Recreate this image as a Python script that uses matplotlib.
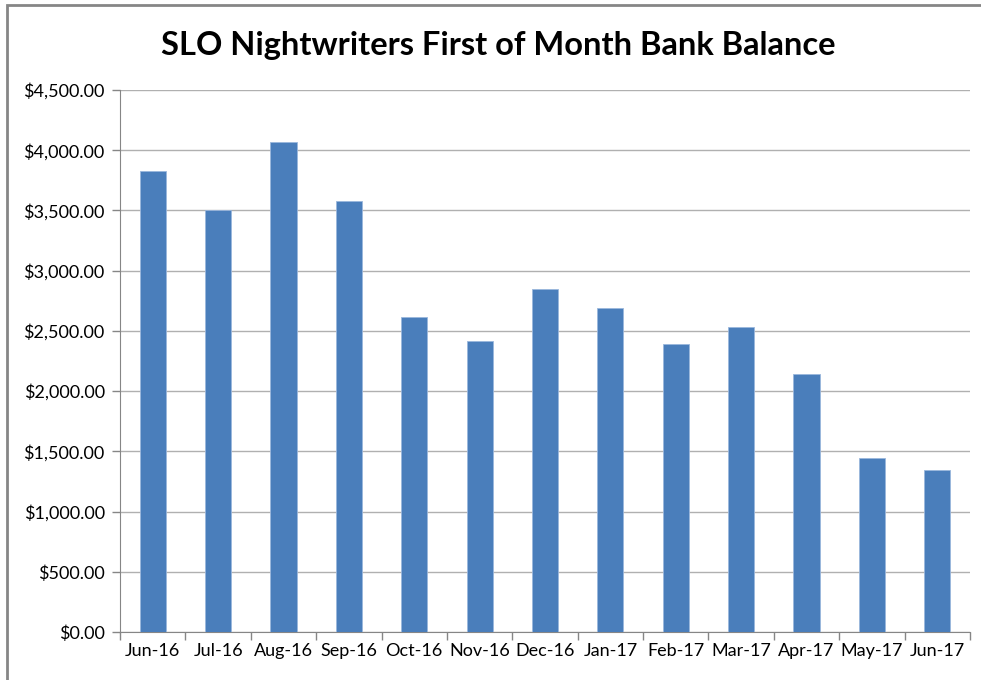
import matplotlib.pyplot as plt
from matplotlib.patches import Rectangle
from matplotlib.ticker import FuncFormatter, MultipleLocator

months = ['Jun-16', 'Jul-16', 'Aug-16', 'Sep-16', 'Oct-16', 'Nov-16', 'Dec-16',
          'Jan-17', 'Feb-17', 'Mar-17', 'Apr-17', 'May-17', 'Jun-17']
balance = [3827, 3504, 4068, 3578, 2615, 2416, 2848,
           2690, 2391, 2532, 2142, 1445, 1345]

plt.rcParams['font.family'] = ['Lato', 'DejaVu Sans']

fig = plt.figure(figsize=(9.81, 6.8), dpi=100)
# outer chart frame
fig.patches.append(Rectangle((7 / 981, -0.05), 1.2, 1.05 - 5 / 680, transform=fig.transFigure,
                             fill=False, edgecolor='#868686', linewidth=2))

ax = fig.add_axes([120 / 981, 1 - 632 / 680, 850 / 981, 542 / 680])
x = range(len(months))
ax.bar(x, balance, width=0.4, color='#4a7ebb', edgecolor='#9ab7dd', linewidth=0.6, zorder=3)

ax.set_xlim(-0.5, len(months) - 0.5)
ax.set_ylim(0, 4500)
ax.yaxis.set_major_locator(MultipleLocator(500))
ax.yaxis.set_major_formatter(FuncFormatter(lambda v, p: '${:,.2f}'.format(v)))
ax.set_xticks(list(x))
ax.set_xticklabels(months)
ax.set_xticks([i - 0.5 for i in range(len(months) + 1)], minor=True)
ax.tick_params(axis='x', which='major', length=0, pad=8, labelsize=13, colors='black')
ax.tick_params(axis='x', which='minor', length=6, color='#868686', width=1)
ax.tick_params(axis='y', length=6, color='#868686', width=1, labelsize=13, pad=5)

ax.grid(axis='y', color='#b0b0b0', linewidth=1, zorder=0)
for s in ['top', 'right']:
    ax.spines[s].set_visible(False)
ax.spines['left'].set_color('#868686')
ax.spines['bottom'].set_color('#868686')

fig.text(498 / 981, 1 - 45 / 680, 'SLO Nightwriters First of Month Bank Balance',
         ha='center', va='center', fontsize=23.5, fontweight='bold')

fig.savefig('out.png', dpi=100)
